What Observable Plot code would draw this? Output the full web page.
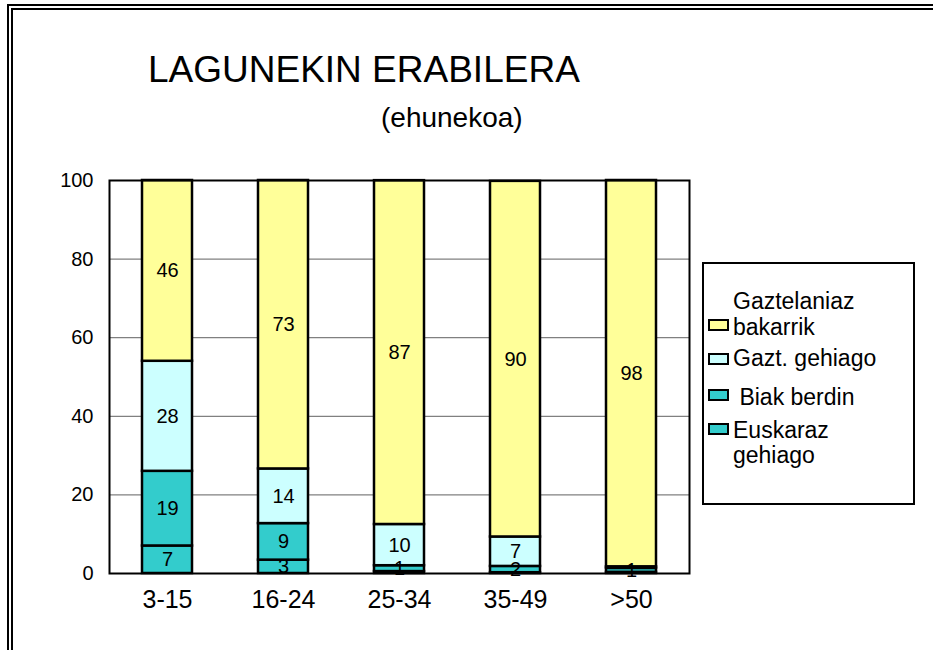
<!DOCTYPE html>
<html><head><meta charset="utf-8">
<script src="https://cdn.jsdelivr.net/npm/d3@7"></script>
<script src="https://cdn.jsdelivr.net/npm/@observablehq/plot@0.6"></script>
<style>
body{margin:0;background:#fff;}
#wrap{position:relative;width:933px;height:650px;overflow:hidden;font-family:"Liberation Sans",Arial,sans-serif;background:#fff;}
#chart,#overlay{position:absolute;left:0;top:0;}
.b1{position:absolute;left:7px;top:4px;width:1000px;height:1000px;border-left:2px solid #000;border-top:2px solid #000;}
.b2{position:absolute;left:11px;top:8px;width:1000px;height:1000px;border-left:2px solid #000;border-top:2px solid #000;}
</style>
</head><body>
<div id="wrap">
  <div class="b1"></div><div class="b2"></div>
  <div id="chart"></div>
  <svg id="overlay" width="933" height="650"></svg>
</div>
<script>
// ---- data ----
const title = "LAGUNEKIN ERABILERA";
const subtitle = "(ehunekoa)";
const groups = ["3-15", "16-24", "25-34", "35-49", ">50"];
const series = ["Euskaraz gehiago", "Biak berdin", "Gazt. gehiago", "Gaztelaniaz bakarrik"];
const euskarazGehiago    = [7, 3.4, 0.49, 0.2, 0.3];
const biakBerdin         = [19, 9.3, 1.49, 1.6, 1.0];
const gaztGehiago        = [28, 13.9, 10.49, 7.49, 0.4];
const gaztelaniazBakarrik= [46, 73.4, 87.49, 90.49, 98.3];
const colors = ["#33CCCC", "#33CCCC", "#CCFFFF", "#FFFF99"];
const yTicks = [0, 20, 40, 60, 80, 100];
// legend (top to bottom)
const legendItems = [
  {lines: ["Gaztelaniaz", "bakarrik"], color: "#FFFF99"},
  {lines: ["Gazt. gehiago"], color: "#CCFFFF"},
  {lines: [" Biak berdin"], color: "#33CCCC"},
  {lines: ["Euskaraz", "gehiago"], color: "#33CCCC"}
];

const seriesValues = [euskarazGehiago, biakBerdin, gaztGehiago, gaztelaniazBakarrik];
const data = [];
series.forEach((s, si) => groups.forEach((g, gi) => data.push({group: g, series: s, value: seriesValues[si][gi]})));

const FONT = "'Liberation Sans', Arial, sans-serif";

const chart = Plot.plot({
  width: 933, height: 650,
  marginLeft: 109, marginRight: 244, marginTop: 180, marginBottom: 77,
  style: {fontFamily: FONT, background: "transparent", color: "#000"},
  x: {domain: groups, paddingInner: 0.57, paddingOuter: 0.285, label: null},
  y: {domain: [0, 100], label: null},
  color: {domain: series, range: colors},
  marks: [
    Plot.ruleY([20, 40, 60, 80], {stroke: "#808080", strokeWidth: 1.3}),
    Plot.barY(data, Plot.stackY({x: "group", y: "value", fill: "series", order: series, stroke: "#000", strokeWidth: 2.5})),
    Plot.text(data, Plot.stackY({x: "group", y: "value", z: "series", order: series,
      text: d => Math.round(d.value) > 0 ? String(Math.round(d.value)) : "", fontSize: 20, fill: "#000"})),
    Plot.frame({stroke: "#000", strokeWidth: 2}),
    Plot.axisY({ticks: yTicks, tickSize: 0, tickPadding: 16, fontSize: 20, tickFormat: d => String(d)}),
    Plot.axisX({tickSize: 0, tickPadding: 17, fontSize: 25})
  ]
});
document.getElementById("chart").appendChild(chart);

// ---- overlay: title, subtitle, legend ----
const ov = d3.select("#overlay").style("font-family", FONT);
ov.append("text").attr("x", 148).attr("y", 82).attr("font-size", 37).attr("fill", "#000").text(title);
ov.append("text").attr("x", 381).attr("y", 127).attr("font-size", 28).attr("fill", "#000").text(subtitle);

ov.append("rect").attr("x", 703).attr("y", 263).attr("width", 211).attr("height", 241)
  .attr("fill", "#fff").attr("stroke", "#000").attr("stroke-width", 2);

const swatchY = [320, 354, 390, 424];
const baselines = [[309, 335], [366], [405], [438, 463]];
legendItems.forEach((it, i) => {
  ov.append("rect").attr("x", 709).attr("y", swatchY[i]).attr("width", 19).attr("height", 10)
    .attr("fill", it.color).attr("stroke", "#000").attr("stroke-width", 2);
  it.lines.forEach((ln, j) => {
    ov.append("text").attr("x", 733).attr("y", baselines[i][j]).attr("font-size", 23)
      .attr("fill", "#000").attr("xml:space", "preserve").style("white-space", "pre").text(ln);
  });
});
</script>
</body></html>
